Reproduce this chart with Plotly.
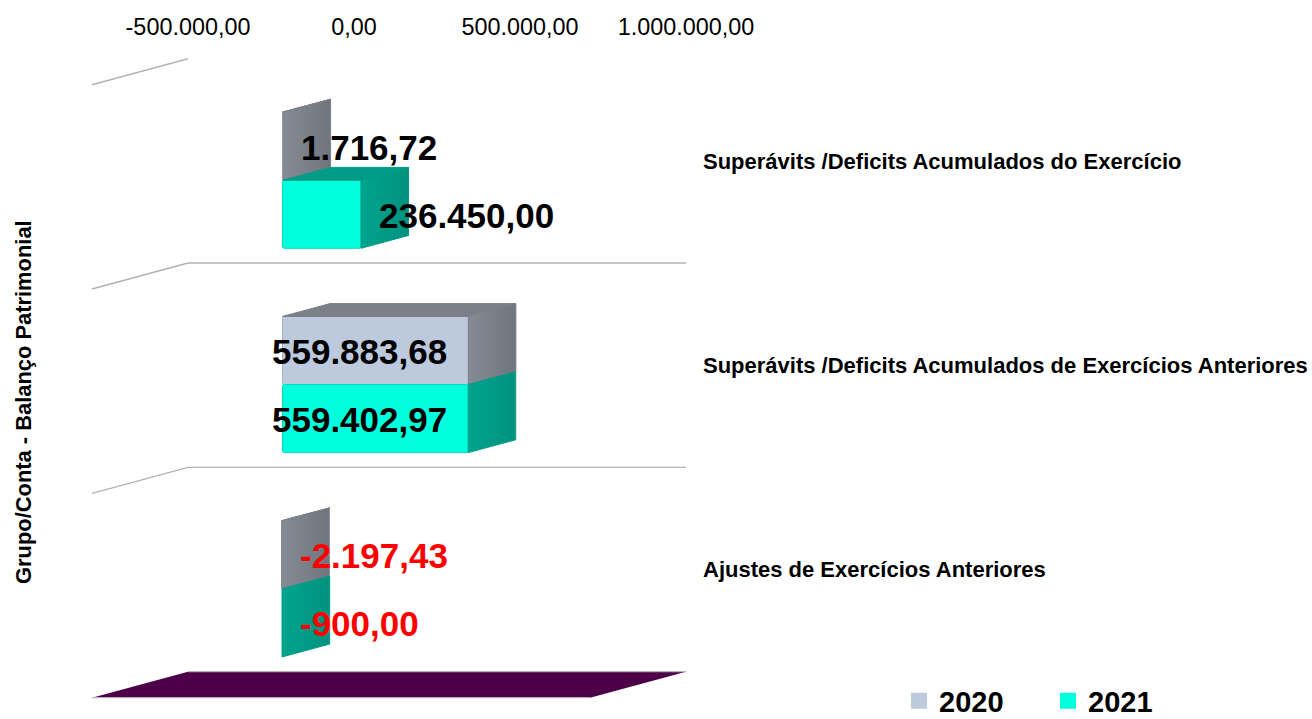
import plotly.graph_objects as go

# ---- data ----
categories = ["Ajustes de Exercícios Anteriores",
              "Superávits /Deficits Acumulados de Exercícios Anteriores",
              "Superávits /Deficits Acumulados do Exercício"]
series_names = ["2020", "2021"]
values_2020 = [-2197.43, 559883.68, 1716.72]
values_2021 = [-900.00, 559402.97, 236450.00]
labels_2020 = ["-2.197,43", "559.883,68", "1.716,72"]
labels_2021 = ["-900,00", "559.402,97", "236.450,00"]
x_ticks = [-500000, 0, 500000, 1000000]
x_tick_labels = ["-500.000,00", "0,00", "500.000,00", "1.000.000,00"]
axis_title = "Grupo/Conta - Balanço Patrimonial"

# ---- page geometry and the fake 3D projection ----
W, H = 1312, 750   # a little taller than the window so the big legend pushes no margin
TOP = 41
PX_PER_UNIT_X = 166 / 500000
PX_PER_CAT = 204.3
X0_PX, CAT0_PX = 354, 569.5
UX = 1 / PX_PER_UNIT_X      # data units in one pixel, x
UY = 1 / PX_PER_CAT         # category units in one pixel, y
x_range = [-X0_PX * UX, (W - X0_PX) * UX]
y_range = [(CAT0_PX - H) * UY, (CAT0_PX - TOP) * UY]
FLOOR_DX, FLOOR_DY = -96 * UX, -26 * UY
FRONT_DX, FRONT_DY = -71.5 * UX, -19.3 * UY
BACK_DX, BACK_DY = -24 * UX, -6.5 * UY
BAR_H = 1 / 3

FONT = "Liberation Sans"
GRID = "#b3b3b3"
FRONT = {"2020": "#bdc9dc", "2021": "#00ffdd"}
BORDER = {"2020": "#a9b4c6", "2021": "#00d9bc"}
TOPC = {"2020": "#7a7f88", "2021": "#009c87"}
SIDE_L = {"2020": "#858b94", "2021": "#00a48e"}
SIDE_R = {"2020": "#70757d", "2021": "#00927e"}

fig = go.Figure()


def poly(xs, ys, color, grad=None, lw=1.0):
    kw = {}
    if grad:
        kw["fillgradient"] = dict(type="horizontal",
                                  colorscale=[[0, grad[0]], [1, grad[1]]])
    else:
        kw["fillcolor"] = color
    fig.add_trace(go.Scatter(x=xs, y=ys, mode="lines", fill="toself",
                             line=dict(color=color, width=lw),
                             hoverinfo="skip", showlegend=False, **kw))


def seg(xs, ys, width=1.4):
    fig.add_trace(go.Scatter(x=xs, y=ys, mode="lines",
                             line=dict(color=GRID, width=width),
                             hoverinfo="skip", showlegend=False))


x_min, x_max = x_ticks[0], x_ticks[-1]
n = len(categories)

# floor
floor_y = -0.5
poly([x_min + FLOOR_DX, x_min, x_max, x_max + FLOOR_DX, x_min + FLOOR_DX],
     [floor_y + FLOOR_DY, floor_y, floor_y, floor_y + FLOOR_DY, floor_y + FLOOR_DY],
     "#4d0048", lw=0)
seg([x_min, x_max], [floor_y, floor_y])
seg([x_min + FLOOR_DX, x_max + FLOOR_DX], [floor_y + FLOOR_DY] * 2)

# wall grid: back lines and the slanted side-wall lines
for k in range(1, n + 1):
    b = k - 0.5
    seg([x_min + FLOOR_DX, x_min], [b + FLOOR_DY, b])
    if k < n:
        seg([x_min, x_max], [b, b])

# front faces: real bars, drawn through the axes
for name, vals, off in (("2020", values_2020, 0.0), ("2021", values_2021, -BAR_H)):
    fig.add_trace(go.Bar(
        orientation="h", name=name, x=vals,
        y=[i + FRONT_DY for i in range(n)],
        base=FRONT_DX, width=BAR_H, offset=off,
        marker=dict(color=FRONT[name], line=dict(color=BORDER[name], width=1)),
        showlegend=False, legendgroup=name, hoverinfo="x+name"))


def side(name, v, y0, y1):
    xa, xb = v + FRONT_DX, v + BACK_DX
    poly([xa, xb, xb, xa, xa],
         [y0 + FRONT_DY, y0 + BACK_DY, y1 + BACK_DY, y1 + FRONT_DY, y0 + FRONT_DY],
         TOPC[name], grad=(SIDE_L[name], SIDE_R[name]))


def top(name, a, b, y):
    if b <= a:
        return
    poly([a + FRONT_DX, a + BACK_DX, b + BACK_DX, b + FRONT_DX, a + FRONT_DX],
         [y + FRONT_DY, y + BACK_DY, y + BACK_DY, y + FRONT_DY, y + FRONT_DY],
         TOPC[name])


for i in range(n):
    v20, v21 = values_2020[i], values_2021[i]
    # upper series
    top("2020", min(0, v20), max(0, v20), i + BAR_H)
    side("2020", v20, i, i + BAR_H)
    # lower series: its top face is only seen where the upper bar does not hide it
    top("2021", max(0, v20), v21, i)
    side("2021", v21, i - BAR_H, i)

# legend entries
for name in series_names:
    fig.add_trace(go.Scatter(x=[None], y=[None], mode="markers", name=name,
                             legendgroup=name,
                             marker=dict(symbol="square", size=16, color=FRONT[name])))

# data labels
annos = []
for i in range(n):
    for vals, labs, yc in ((values_2020, labels_2020, i + BAR_H / 2),
                           (values_2021, labels_2021, i - BAR_H / 2)):
        v, t = vals[i], labs[i]
        big = v > 300000
        annos.append(dict(
            x=v + FRONT_DX, y=yc + FRONT_DY, text=t, showarrow=False,
            xanchor="right" if big else "left", yanchor="middle",
            xshift=-19.5 if big else 16, yshift=-1,
            font=dict(family=FONT, size=35, weight="bold",
                      color="#ff0000" if v < 0 else "#000000")))
annos.append(dict(xref="paper", yref="paper", x=23 / W,
                  y=(H - 402) / (H - TOP), text=axis_title, textangle=-90,
                  showarrow=False, xanchor="center", yanchor="middle",
                  font=dict(family=FONT, size=21.9, weight="bold", color="#000000")))

fig.update_layout(
    width=W, height=H, autosize=False,
    margin=dict(l=0, r=0, t=TOP, b=0, pad=0),
    paper_bgcolor="#ffffff", plot_bgcolor="#ffffff",
    barmode="overlay", barcornerradius=2,
    font=dict(family=FONT, color="#000000"),
    annotations=annos,
    legend=dict(orientation="h", x=899 / W, xanchor="left",
                y=(H - 701) / (H - TOP), yanchor="middle",
                entrywidth=104, entrywidthmode="pixels",
                bgcolor="rgba(0,0,0,0)", tracegroupgap=0,
                font=dict(family=FONT, size=29, weight="bold", color="#000000")),
    xaxis=dict(range=x_range, side="top", tickmode="array", tickvals=x_ticks,
               ticktext=x_tick_labels, showgrid=False, zeroline=False, showline=False,
               ticks="", tickfont=dict(family=FONT, size=23.4, color="#000000"),
               automargin=False, fixedrange=True),
    yaxis=dict(range=y_range, tickmode="array", tickvals=list(range(n)),
               ticktext=categories, side="right", anchor="free", position=702 / W,
               showgrid=False, zeroline=False, showline=False, ticks="",
               tickfont=dict(family=FONT, size=22, weight="bold", color="#000000"),
               automargin=False, fixedrange=True),
)

fig.write_html("out.html", config={"displayModeBar": False},
               post_script="document.body.style.margin='0';"
                           "document.documentElement.style.overflow='hidden';")
